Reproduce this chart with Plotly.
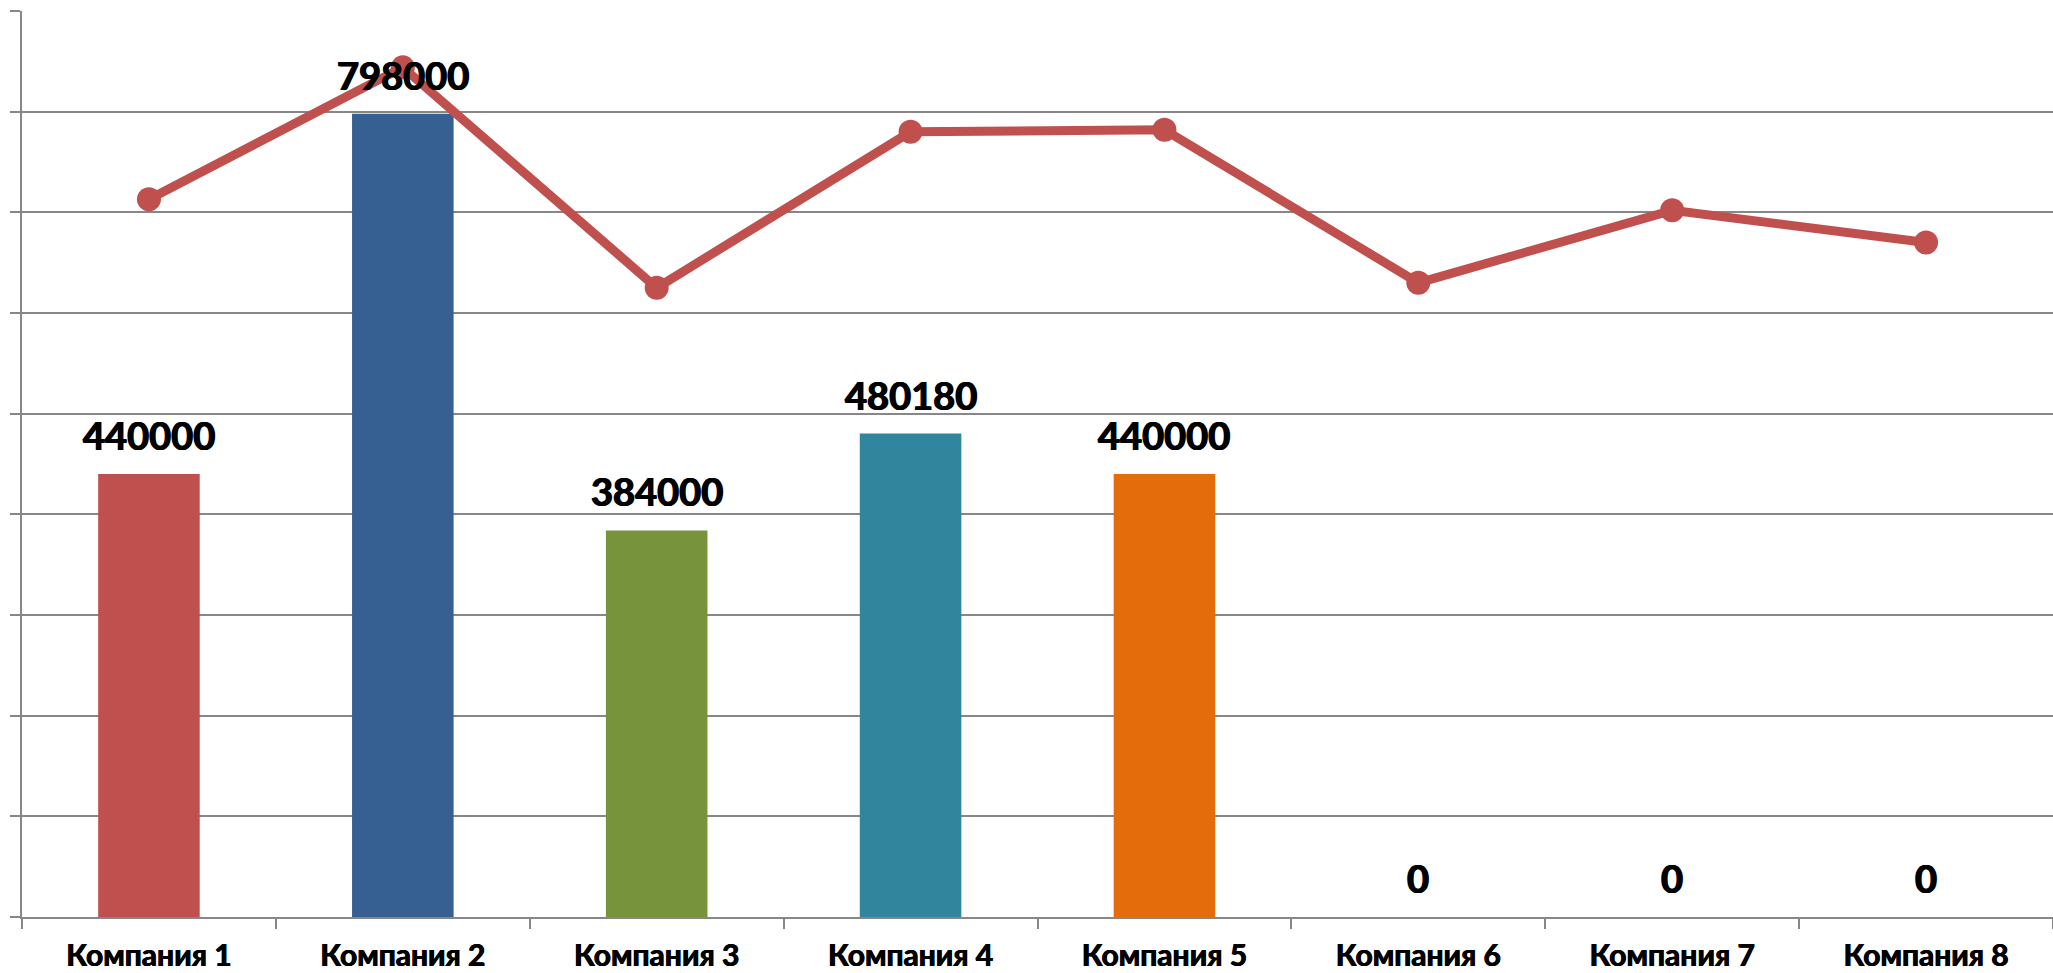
import plotly.graph_objects as go

categories = ["Компания 1", "Компания 2", "Компания 3", "Компания 4",
              "Компания 5", "Компания 6", "Компания 7", "Компания 8"]
bar_values = [440000, 798000, 384000, 480180, 440000, 0, 0, 0]
bar_colors = ["#C0504D", "#366092", "#77933C", "#31859C", "#E46C0A",
              "#C0504D", "#C0504D", "#C0504D"]
line_values = [713000, 844000, 625000, 780000, 782000, 630000, 702000, 670000]

FONT = "Lato, 'Open Sans', Arial, sans-serif"
GRID = "#878787"
LINE_COLOR = "#C0504D"
SHADOW = "0.7px 0 0 #000, -0.7px 0 0 #000"

fig = go.Figure()
fig.add_trace(go.Bar(
    x=categories, y=bar_values,
    marker=dict(color=bar_colors, line=dict(width=0)),
    showlegend=False,
))
fig.add_trace(go.Scatter(
    x=categories, y=line_values, mode="lines+markers",
    line=dict(color=LINE_COLOR, width=9),
    marker=dict(color=LINE_COLOR, size=24),
    showlegend=False,
))

for c, v in zip(categories, bar_values):
    fig.add_annotation(
        x=c, y=v, text=f"<b>{v}</b>", showarrow=False,
        yanchor="bottom", yshift=14,
        font=dict(family=FONT, size=38, color="#000000", weight="bold",
                  shadow=SHADOW),
    )

fig.update_layout(
    width=2053, height=973,
    margin=dict(l=22, r=0, t=11, b=56),
    paper_bgcolor="white", plot_bgcolor="white",
    bargap=0.6,
    xaxis=dict(
        type="category", range=[-0.5, 7.5],
        showline=True, linecolor=GRID, linewidth=2,
        ticks="outside", ticklen=10, tickcolor=GRID, tickwidth=2,
        tickson="boundaries",
        showgrid=False,
        automargin=False,
        ticklabelstandoff=11,
        tickfont=dict(family=FONT, size=30, color="#000000", weight="bold",
                      shadow="0.5px 0 0 #000, -0.5px 0 0 #000"),
    ),
    yaxis=dict(
        range=[0, 900000], dtick=100000, tick0=0,
        showline=True, linecolor=GRID, linewidth=2,
        ticks="outside", ticklen=10, tickcolor=GRID, tickwidth=2,
        showticklabels=False,
        automargin=False,
        showgrid=True, gridcolor=GRID, gridwidth=2,
        zeroline=False,
    ),
)

fig.write_html(
    "out.html",
    config={"displayModeBar": False},
    post_script="document.body.style.margin='0';document.body.style.overflow='hidden';",
)
